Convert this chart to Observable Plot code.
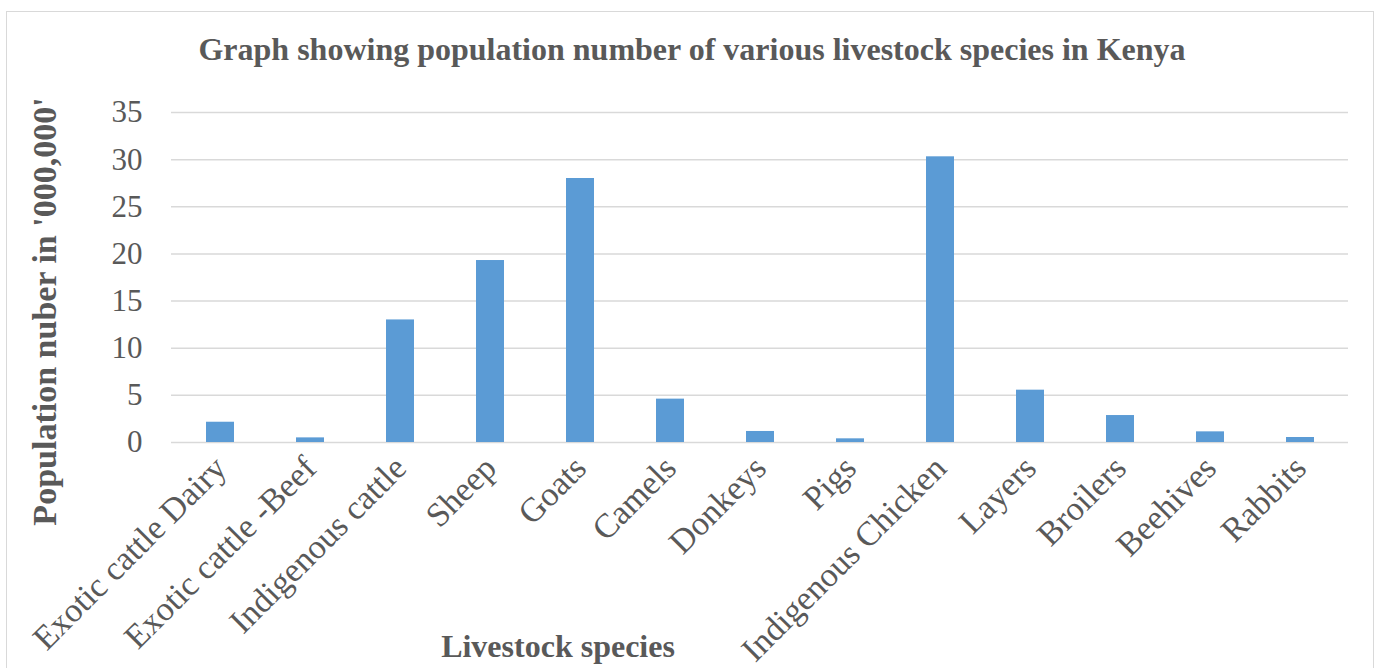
<!DOCTYPE html>
<html>
<head>
<meta charset="utf-8">
<script src="https://cdn.jsdelivr.net/npm/d3@7"></script>
<script src="https://cdn.jsdelivr.net/npm/@observablehq/plot@0.6"></script>
<style>
  html, body { margin: 0; padding: 0; background: #fff; }
  body { width: 1382px; height: 668px; position: relative; overflow: hidden; font-family: "Liberation Serif", serif; }
  #frame { position: absolute; left: 6px; top: 11px; width: 1368px; height: 720px; border: 1px solid #d9d9d9; box-sizing: border-box; }
  #title { position: absolute; left: 0; top: 29px; width: 1384px; text-align: center; font-weight: bold; font-size: 32px; line-height: 40px; color: #595959; }
  #chart { position: absolute; left: 0; top: 0; }
</style>
</head>
<body>
<div id="frame"></div>
<div id="title">Graph showing population number of various livestock species in Kenya</div>
<div id="chart"></div>
<script>
const species = ["Exotic cattle Dairy", "Exotic cattle -Beef", "Indigenous cattle", "Sheep", "Goats", "Camels", "Donkeys", "Pigs", "Indigenous Chicken", "Layers", "Broilers", "Beehives", "Rabbits"];
const population = [2.15, 0.49, 13.0, 19.3, 28.0, 4.6, 1.17, 0.39, 30.3, 5.55, 2.86, 1.13, 0.53];
const yTicks = [0, 5, 10, 15, 20, 25, 30, 35];
const xTitle = "Livestock species";
const yTitle = "Population nuber in '000,000'";

const data = species.map((s, i) => ({species: s, value: population[i]}));

const chart = Plot.plot({
  width: 1382,
  height: 668,
  marginLeft: 171,
  marginRight: 34,
  marginTop: 112,
  marginBottom: 226,
  style: {background: "transparent", fontFamily: "Liberation Serif, serif", color: "#595959", overflow: "visible"},
  x: {domain: species, paddingInner: 0.69, paddingOuter: 0.345, label: null},
  y: {domain: [0, 35], ticks: yTicks, label: null},
  marks: [
    Plot.ruleY(yTicks, {stroke: "#d9d9d9", strokeWidth: 1.5}),
    Plot.barY(data, {x: "species", y: "value", fill: "#5b9bd5"}),
    Plot.axisY({ticks: yTicks, tickSize: 0, tickPadding: 29, fontSize: 31, label: null}),
    Plot.axisX({tickSize: 0, tickRotate: -45, tickPadding: 20, fontSize: 34, label: null}),
    Plot.text([xTitle], {frameAnchor: "bottom", dx: -202, dy: 214, fontSize: 32, fontWeight: "bold", fill: "#595959"}),
    Plot.text([yTitle], {frameAnchor: "left", rotate: -90, textAnchor: "middle", dx: -126, dy: 34, fontSize: 34, fontWeight: "bold", fill: "#595959"})
  ]
});
document.getElementById("chart").appendChild(chart);
</script>
</body>
</html>
